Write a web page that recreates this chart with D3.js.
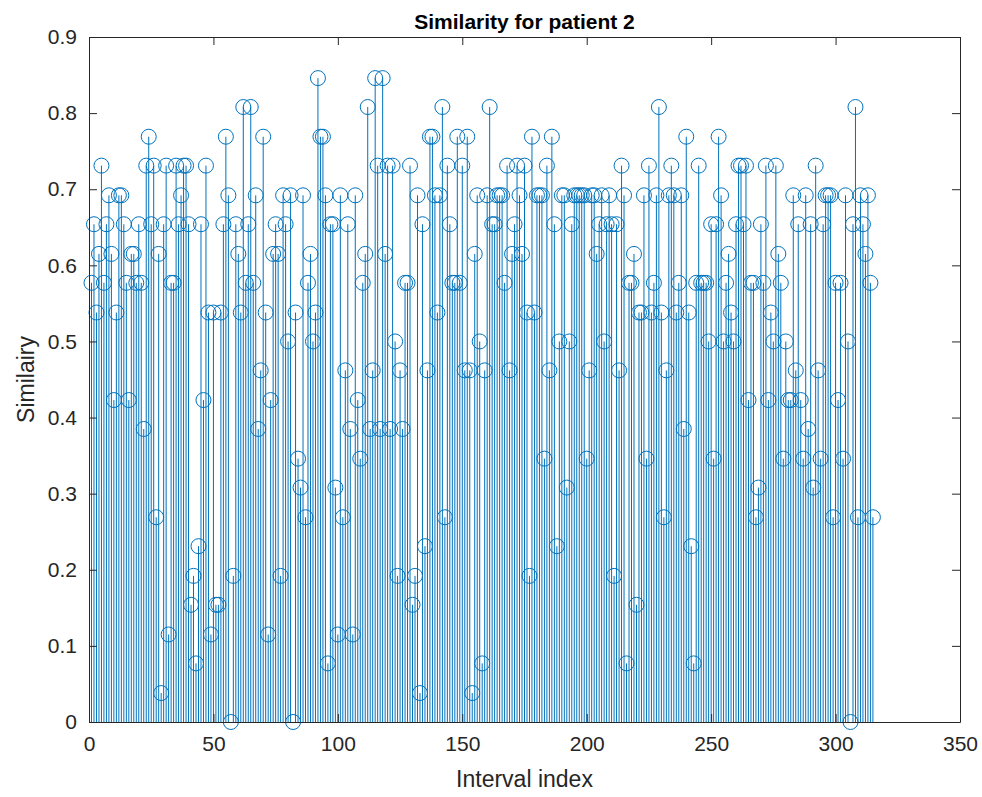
<!DOCTYPE html>
<html>
<head>
<meta charset="utf-8">
<script src="https://cdn.jsdelivr.net/npm/d3@7/dist/d3.min.js"></script>
<style>
  body { margin: 0; background: #fff; }
  svg { display: block; font-family: "Liberation Sans", Arial, sans-serif; }
  .axis path, .axis line { stroke: #262626; }
  .axis text { fill: #262626; font-size: 21px; }
</style>
</head>
<body>
<svg id="chart" width="982" height="797"></svg>
<script>
// similarity value for each interval index 1..315
var similarity = [
  0.577, 0.654, 0.538, 0.615, 0.731, 0.577, 0.654, 0.692, 0.615, 0.423,
  0.538, 0.692, 0.692, 0.654, 0.577, 0.423, 0.615, 0.615, 0.577, 0.654,
  0.577, 0.385, 0.731, 0.769, 0.654, 0.731, 0.269, 0.615, 0.038, 0.654,
  0.731, 0.115, 0.577, 0.577, 0.731, 0.654, 0.692, 0.731, 0.731, 0.654,
  0.154, 0.192, 0.077, 0.231, 0.654, 0.423, 0.731, 0.538, 0.115, 0.538,
  0.154, 0.154, 0.538, 0.654, 0.769, 0.692, 0.000, 0.192, 0.654, 0.615,
  0.538, 0.808, 0.577, 0.654, 0.808, 0.577, 0.692, 0.385, 0.462, 0.769,
  0.538, 0.115, 0.423, 0.615, 0.654, 0.615, 0.192, 0.692, 0.654, 0.500,
  0.692, 0.000, 0.538, 0.346, 0.308, 0.692, 0.269, 0.577, 0.615, 0.500,
  0.538, 0.846, 0.769, 0.769, 0.692, 0.077, 0.654, 0.654, 0.308, 0.115,
  0.692, 0.269, 0.462, 0.654, 0.385, 0.115, 0.692, 0.423, 0.346, 0.577,
  0.615, 0.808, 0.385, 0.462, 0.846, 0.731, 0.385, 0.846, 0.615, 0.731,
  0.385, 0.731, 0.500, 0.192, 0.462, 0.385, 0.577, 0.577, 0.731, 0.154,
  0.192, 0.692, 0.038, 0.654, 0.231, 0.462, 0.769, 0.769, 0.692, 0.538,
  0.692, 0.808, 0.269, 0.731, 0.654, 0.577, 0.577, 0.769, 0.577, 0.731,
  0.462, 0.769, 0.462, 0.038, 0.615, 0.692, 0.500, 0.077, 0.462, 0.692,
  0.808, 0.654, 0.654, 0.692, 0.692, 0.692, 0.577, 0.731, 0.462, 0.615,
  0.654, 0.731, 0.692, 0.615, 0.731, 0.538, 0.192, 0.769, 0.538, 0.692,
  0.692, 0.692, 0.346, 0.731, 0.462, 0.769, 0.654, 0.231, 0.500, 0.692,
  0.692, 0.308, 0.500, 0.654, 0.692, 0.692, 0.692, 0.692, 0.692, 0.346,
  0.462, 0.692, 0.692, 0.615, 0.654, 0.692, 0.500, 0.654, 0.692, 0.654,
  0.192, 0.654, 0.462, 0.731, 0.692, 0.077, 0.577, 0.577, 0.615, 0.154,
  0.538, 0.538, 0.692, 0.346, 0.731, 0.538, 0.577, 0.692, 0.808, 0.538,
  0.269, 0.462, 0.692, 0.731, 0.692, 0.538, 0.577, 0.692, 0.385, 0.769,
  0.538, 0.231, 0.077, 0.577, 0.731, 0.577, 0.577, 0.577, 0.500, 0.654,
  0.346, 0.654, 0.769, 0.692, 0.500, 0.577, 0.615, 0.538, 0.500, 0.654,
  0.731, 0.731, 0.654, 0.731, 0.423, 0.577, 0.577, 0.269, 0.308, 0.654,
  0.577, 0.731, 0.423, 0.538, 0.500, 0.731, 0.615, 0.577, 0.346, 0.500,
  0.423, 0.423, 0.692, 0.462, 0.654, 0.423, 0.346, 0.692, 0.385, 0.654,
  0.308, 0.731, 0.462, 0.346, 0.654, 0.692, 0.692, 0.692, 0.269, 0.577,
  0.423, 0.577, 0.346, 0.692, 0.500, 0.000, 0.654, 0.808, 0.269, 0.692,
  0.654, 0.615, 0.692, 0.577, 0.269
];
var xTicks = [0, 50, 100, 150, 200, 250, 300, 350];
var yTicks = [0, 0.1, 0.2, 0.3, 0.4, 0.5, 0.6, 0.7, 0.8, 0.9];

var points = similarity.map(function(v, i) {
    return { index: i + 1, value: v };
});

var margin = { top: 37, right: 22, bottom: 75, left: 89 },
    width = 982 - margin.left - margin.right,
    height = 797 - margin.top - margin.bottom;

var x = d3.scaleLinear().domain([0, 350]).range([0, width]);
var y = d3.scaleLinear().domain([0, 0.9]).range([height, 0]);

var svg = d3.select("#chart");
var chart = svg.append("g")
    .attr("transform", "translate(" + margin.left + "," + margin.top + ")");

var blue = "#0072BD";

// stems
chart.selectAll("line.stem")
    .data(points)
    .enter().append("line")
    .attr("class", "stem")
    .attr("x1", function(d) { return x(d.index); })
    .attr("x2", function(d) { return x(d.index); })
    .attr("y1", y(0))
    .attr("y2", function(d) { return y(d.value); })
    .attr("stroke", blue)
    .attr("stroke-width", 1);

// markers
chart.selectAll("circle.mark")
    .data(points)
    .enter().append("circle")
    .attr("class", "mark")
    .attr("cx", function(d) { return x(d.index); })
    .attr("cy", function(d) { return y(d.value); })
    .attr("r", 7.5)
    .attr("fill", "none")
    .attr("stroke", blue)
    .attr("stroke-width", 1);

// axes, ticks pointing inward, box on
var xAxis = d3.axisBottom(x).tickValues(xTicks).tickSizeInner(-8).tickSizeOuter(0).tickPadding(14);
var yAxis = d3.axisLeft(y).tickValues(yTicks).tickSizeInner(-8).tickSizeOuter(0).tickPadding(12)
    .tickFormat(function(d) { return d === 0 ? "0" : d3.format(".1f")(d); });

chart.append("g")
    .attr("class", "x axis")
    .attr("transform", "translate(0," + height + ")")
    .call(xAxis);

chart.append("g")
    .attr("class", "y axis")
    .call(yAxis);

chart.append("g")
    .attr("class", "x axis")
    .call(d3.axisTop(x).tickValues(xTicks).tickSizeInner(-8).tickSizeOuter(0).tickFormat(""));

chart.append("g")
    .attr("class", "y axis")
    .attr("transform", "translate(" + width + ",0)")
    .call(d3.axisRight(y).tickValues(yTicks).tickSizeInner(-8).tickSizeOuter(0).tickFormat(""));

// title and labels
svg.append("text")
    .text("Similarity for patient 2")
    .attr("x", margin.left + width / 2)
    .attr("y", 29)
    .attr("text-anchor", "middle")
    .attr("font-weight", "bold")
    .attr("font-size", 21)
    .attr("fill", "#000");

svg.append("text")
    .text("Interval index")
    .attr("x", margin.left + width / 2)
    .attr("y", 787)
    .attr("text-anchor", "middle")
    .attr("font-size", 23)
    .attr("fill", "#262626");

svg.append("text")
    .text("Similairy")
    .attr("text-anchor", "middle")
    .attr("font-size", 23)
    .attr("fill", "#262626")
    .attr("transform", "translate(34," + (margin.top + height / 2) + ") rotate(-90)");
</script>
</body>
</html>
